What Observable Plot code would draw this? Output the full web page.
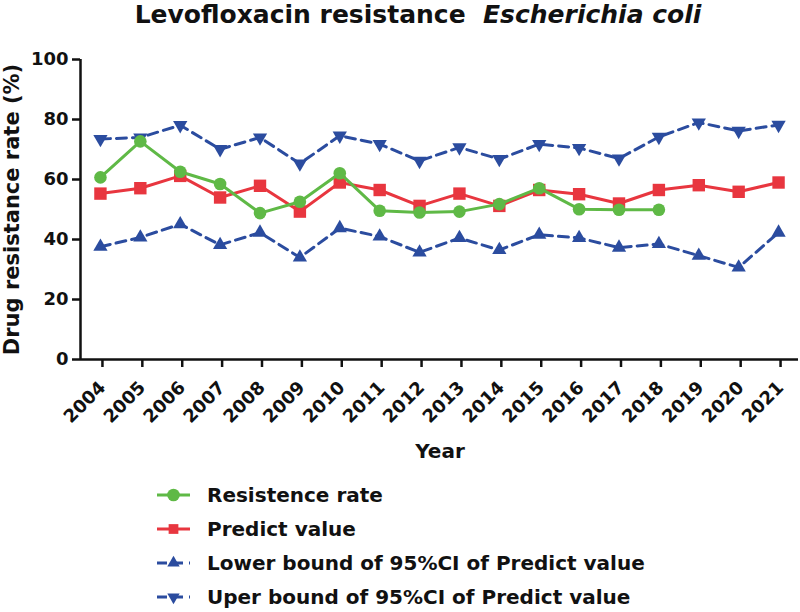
<!DOCTYPE html>
<html><head><meta charset="utf-8">
<script src="https://cdn.jsdelivr.net/npm/d3@7"></script>
<script src="https://cdn.jsdelivr.net/npm/@observablehq/plot@0.6"></script>
<style>
html,body{margin:0;padding:0;background:#fff;}
body{width:800px;font-family:"DejaVu Sans",sans-serif;font-weight:bold;color:#111;}
#title{height:25px;line-height:29px;font-size:25px;text-align:center;padding-left:36px;white-space:pre;overflow:visible;}
#title i{font-style:italic;}
#chart{height:405px;}
#xlabel{height:42px;line-height:42px;font-size:20px;text-align:center;padding-left:80px;}
#legend{padding-top:6px;}
.row{height:34px;line-height:34px;font-size:20px;display:flex;align-items:center;}
.row svg{margin-left:155px;margin-right:16px;}
</style></head><body>
<div id="title">Levofloxacin resistance  <i>Escherichia coli</i></div>
<div id="chart"></div>
<div id="xlabel">Year</div>
<div id="legend"></div>
<script>
const years = [2004,2005,2006,2007,2008,2009,2010,2011,2012,2013,2014,2015,2016,2017,2018,2019,2020,2021];
const resistanceRate = [60.7,72.7,62.6,58.5,48.8,52.6,62.1,49.6,49.0,49.3,51.8,57.1,50.1,49.9,49.9];
const predictValue = [55.3,57.1,61.2,54.0,57.9,49.3,59.0,56.5,51.2,55.3,51.2,56.5,55.1,52.0,56.5,58.1,55.9,59.0];
const lowerBound = [37.6,40.7,45.1,38.2,42.3,34.0,43.8,41.0,35.7,40.5,36.5,41.6,40.5,37.3,38.5,34.6,30.7,42.3];
const upperBound = [73.5,74.0,78.1,70.1,74.0,65.3,74.6,71.8,66.2,70.7,66.8,71.8,70.5,67.0,74.2,79.0,76.2,78.2];
const yTicks = [0,20,40,60,80,100];
const yLabel = "Drug resistance rate (%)";
const seriesNames = ["Resistence rate","Predict value","Lower bound of 95%CI of Predict value","Uper bound of 95%CI of Predict value"];
const seriesColors = ["#5FB946","#E8363F","#2B4C9F","#2B4C9F"];

const rows = vals => vals.map((v,i) => ({year: years[i], value: v}));
const blue = seriesColors[2];

const chart = Plot.plot({
  width: 800, height: 405,
  marginLeft: 80, marginRight: 2, marginTop: 34, marginBottom: 71,
  style: {fontFamily: "DejaVu Sans", fontWeight: "bold", fontSize: "18px", color: "#111", background: "white", overflow: "visible"},
  x: {type: "linear", domain: [years[0] - 0.5, years[years.length - 1] + 0.5]},
  y: {domain: [yTicks[0], yTicks[yTicks.length - 1]]},
  marks: [
    Plot.axisY({ticks: yTicks, tickSize: 8, tickPadding: 4, strokeWidth: 2.5, fontSize: 18,
      label: yLabel, labelArrow: "none", labelAnchor: "center", labelOffset: 76}),
    Plot.axisX({ticks: years, tickFormat: d => String(d), tickSize: 8, tickPadding: 17, tickRotate: -45,
      dx: 2, strokeWidth: 2.5, fontSize: 18, label: null}),
    Plot.ruleX([years[0] - 0.5], {strokeWidth: 2.5, stroke: "#111"}),
    Plot.ruleY([yTicks[0]], {strokeWidth: 2.5, stroke: "#111"}),
    Plot.line(rows(upperBound), {x: "year", y: "value", stroke: blue, strokeWidth: 3, strokeDasharray: "10,6"}),
    Plot.dot(rows(upperBound), {x: "year", y: "value", symbol: "triangle", rotate: 180, r: 5.3, fill: blue, stroke: "none"}),
    Plot.line(rows(lowerBound), {x: "year", y: "value", stroke: blue, strokeWidth: 3, strokeDasharray: "10,6"}),
    Plot.dot(rows(lowerBound), {x: "year", y: "value", symbol: "triangle", r: 5.3, fill: blue, stroke: "none"}),
    Plot.line(rows(predictValue), {x: "year", y: "value", stroke: seriesColors[1], strokeWidth: 3}),
    Plot.dot(rows(predictValue), {x: "year", y: "value", symbol: "square", r: 7, fill: seriesColors[1], stroke: "none"}),
    Plot.line(rows(resistanceRate), {x: "year", y: "value", stroke: seriesColors[0], strokeWidth: 3}),
    Plot.dot(rows(resistanceRate), {x: "year", y: "value", symbol: "circle", r: 6.3, fill: seriesColors[0], stroke: "none"})
  ]
});
chart.querySelectorAll("text").forEach(t => {
  if (t.textContent.includes("Drug")) {
    t.textContent = yLabel;
    t.style.fontSize = "21px";
  }
});
document.getElementById("chart").appendChild(chart);

// legend
const symbols = [d3.symbolCircle, d3.symbolSquare, d3.symbolTriangle, d3.symbolTriangle];
const sizes = [Math.PI*6.3*6.3, Math.PI*5.5*5.5, Math.PI*4.6*4.6, Math.PI*4.6*4.6];
const leg = d3.select("#legend");
seriesNames.forEach((name, i) => {
  const row = leg.append("div").attr("class", "row");
  const svg = row.append("svg").attr("width", 36).attr("height", 34);
  svg.append("line").attr("x1", 2).attr("x2", 35).attr("y1", 17).attr("y2", 17)
    .attr("stroke", seriesColors[i]).attr("stroke-width", 3)
    .attr("stroke-dasharray", i >= 2 ? "10,6" : null);
  svg.append("path").attr("d", d3.symbol(symbols[i], sizes[i])())
    .attr("transform", `translate(18.5,17)${i === 3 ? " rotate(180)" : ""}`)
    .attr("fill", seriesColors[i]);
  row.append("span").text(name);
});
</script>
</body></html>
